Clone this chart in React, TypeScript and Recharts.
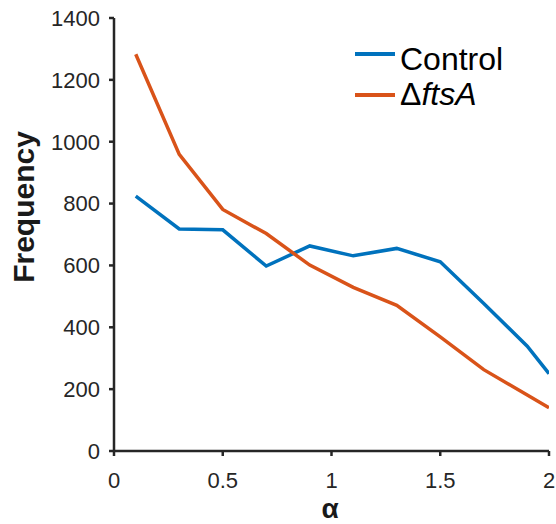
import React from 'react';
import { LineChart, Line, XAxis, YAxis, Legend, Label } from 'recharts';

const alphaValues = [0.1, 0.3, 0.5, 0.7, 0.9, 1.1, 1.3, 1.5, 1.7, 1.9, 2.0];
const controlValues = [824, 718, 715, 598, 663, 631, 655, 612, 477, 339, 250];
const ftsAValues = [1283, 959, 781, 703, 601, 529, 471, 369, 263, 181, 140];
const xTicks = [0, 0.5, 1, 1.5, 2];
const yTicks = [0, 200, 400, 600, 800, 1000, 1200, 1400];

const data = alphaValues.map((a, i) => ({ alpha: a, control: controlValues[i], ftsA: ftsAValues[i] }));

const FONT = '"Liberation Sans", Arial, Helvetica, sans-serif';
const BLUE = '#0072BD';
const ORANGE = '#D95319';
const AXIS = '#262626';

const LegendContent = () => (
  <svg width={200} height={85} style={{ display: 'block' }}>
    <line x1={5} x2={45} y1={24} y2={24} stroke={BLUE} strokeWidth={4} />
    <text x={50} y={40} fontFamily={FONT} fontSize={32} fill="#000">Control</text>
    <line x1={5} x2={45} y1={65} y2={65} stroke={ORANGE} strokeWidth={4} />
    <text x={50} y={75} fontFamily={FONT} fontSize={32} fill="#000">
      Δ<tspan fontStyle="italic">ftsA</tspan>
    </text>
  </svg>
);

export default function App() {
  return (
    <div style={{ position: 'absolute', left: 0, top: 0, width: 556, height: 524, background: '#fff' }}>
      <LineChart width={556} height={524} data={data} margin={{ top: 18, right: 7, left: 0, bottom: 0 }}>
        <XAxis
          dataKey="alpha"
          type="number"
          domain={[0, 2]}
          ticks={xTicks}
          allowDataOverflow
          height={73}
          stroke={AXIS}
          strokeWidth={2.5}
          tickSize={5}
          tickMargin={16}
          tick={{ fill: AXIS, fontFamily: FONT, fontSize: 22 }}
        >
          <Label
            content={() => (
              <text x={330} y={518} textAnchor="middle" fontFamily={FONT} fontWeight="bold" fontSize={28} fill="#1a1a1a">α</text>
            )}
          />
        </XAxis>
        <YAxis
          type="number"
          domain={[0, 1400]}
          ticks={yTicks}
          width={114}
          stroke={AXIS}
          strokeWidth={2.5}
          tickSize={5}
          tickMargin={9}
          tick={{ fill: AXIS, fontFamily: FONT, fontSize: 22 }}
        >
          <Label
            content={() => (
              <text
                x={23}
                y={207}
                transform="rotate(-90, 23, 207)"
                textAnchor="middle"
                dominantBaseline="central"
                fontFamily={FONT}
                fontWeight="bold"
                fontSize={30}
                fill="#1a1a1a"
              >
                Frequency
              </text>
            )}
          />
        </YAxis>
        <Legend
          layout="vertical"
          align="center"
          verticalAlign="middle"
          content={<LegendContent />}
          wrapperStyle={{ left: 350, top: 30, width: 200, height: 85 }}
        />
        <Line type="linear" dataKey="control" stroke={BLUE} strokeWidth={3.5} dot={false} isAnimationActive={false} />
        <Line type="linear" dataKey="ftsA" stroke={ORANGE} strokeWidth={3.5} dot={false} isAnimationActive={false} />
      </LineChart>
    </div>
  );
}
